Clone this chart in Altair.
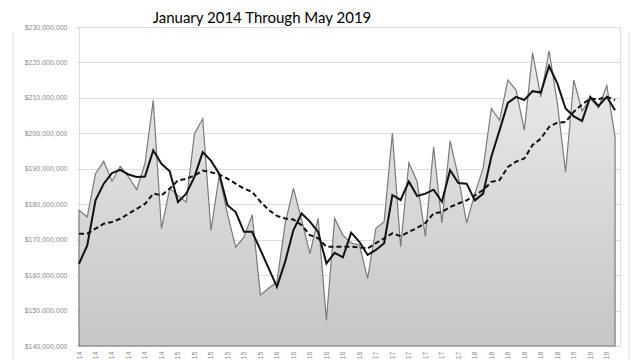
import altair as alt
import pandas as pd

# Monthly values in $ millions, Jan 2014 .. Jun 2019 (66 points)
monthly = [178.3, 176.4, 188.6, 192.1, 186.5, 190.7, 187.7, 184.1, 191.5, 209.3,
           173.1, 184.4, 182.5, 180.6, 199.8, 204.1, 172.6, 188.1, 177.3, 167.9,
           170.7, 177.0, 154.4, 156.3, 158.1, 174.6, 184.5, 175.5, 166.1, 176.0,
           147.3, 176.0, 171.3, 169.0, 168.5, 159.1, 173.2, 175.1, 200.0, 168.0,
           191.7, 186.4, 171.0, 196.2, 174.7, 197.9, 187.7, 174.7, 183.0, 190.1,
           207.0, 203.7, 215.0, 212.2, 200.9, 222.7, 210.3, 223.3, 208.5, 189.1,
           215.0, 206.3, 209.8, 207.2, 213.5, 199.0]

avg3 = [163.2, 168.4, 181.1, 185.8, 188.8, 189.7, 188.4, 187.7, 187.8, 195.2,
        191.4, 189.3, 180.6, 183.0, 187.7, 194.7, 192.3, 188.6, 179.7, 177.8,
        172.2, 172.2, 167.1, 161.9, 156.7, 163.8, 172.7, 177.4, 175.1, 172.2,
        163.3, 166.3, 165.0, 172.0, 169.4, 165.7, 167.1, 169.0, 182.6, 181.2,
        186.4, 182.3, 183.0, 184.1, 180.7, 189.6, 186.0, 185.8, 181.1, 183.0,
        193.4, 200.9, 208.6, 210.3, 209.4, 211.9, 211.5, 219.0, 214.1, 207.0,
        204.8, 203.5, 210.3, 207.7, 210.3, 206.5]

avg12 = [171.7, 171.7, 173.1, 174.5, 175.0, 175.9, 177.3, 178.7, 180.1, 183.0,
         182.5, 184.4, 186.7, 187.2, 188.1, 189.5, 189.0, 188.4, 187.2, 185.8,
         184.4, 183.5, 180.7, 178.4, 176.7, 176.0, 175.7, 174.1, 171.3, 170.4,
         168.0, 168.0, 168.0, 168.0, 167.8, 167.5, 169.0, 170.4, 171.8, 171.0,
         172.2, 173.3, 174.7, 177.4, 177.8, 179.2, 180.2, 181.1, 182.5, 184.0,
         186.3, 186.8, 190.5, 192.0, 192.9, 196.7, 198.5, 201.8, 203.0, 203.2,
         206.1, 208.2, 209.8, 209.6, 210.3, 209.4]

years = ["14", "15", "16", "17", "18", "19"]
month_labels = [y for y in years for _ in range(12)][:66]

y_ticks = [140, 150, 160, 170, 180, 190, 200, 210, 220, 230]
title_text = "January 2014 Through May 2019"

df = pd.DataFrame({
    "idx": list(range(len(monthly))),
    "label": month_labels,
    "monthly": [v * 1e6 for v in monthly],
    "avg3": [v * 1e6 for v in avg3],
    "avg12": [v * 1e6 for v in avg12],
})

label_js = "[" + ",".join(f"'{s}'" for s in month_labels) + "]"

x_axis = alt.Axis(
    values=list(range(0, 65, 2)),
    labelExpr=label_js + "[datum.value]",
    labelAngle=-90,
    labelFontSize=7,
    labelColor="#8c8c8c",
    labelFont="Liberation Sans",
    labelPadding=5,
    labelOverlap=False,
    ticks=False,
    domain=False,
    grid=False,
    title=None,
)
x_scale = alt.Scale(domain=[0, 65.6], nice=False, zero=False)

y_scale = alt.Scale(domain=[140e6, 230e6], nice=False, zero=False)
y_axis = alt.Axis(
    values=[v * 1e6 for v in y_ticks],
    format="$,.0f",
    labelFontSize=7,
    labelFont="Liberation Sans",
    labelColor="#8c8c8c",
    labelPadding=9,
    labelOverlap=False,
    labelFlush=False,
    tickSize=3,
    tickColor="#d9d9d9",
    gridColor="#dedede",
    gridWidth=1,
    domain=False,
    title=None,
)


def xe():
    return alt.X("idx:Q", scale=x_scale, axis=x_axis)


def ye(field):
    return alt.Y(f"{field}:Q", scale=y_scale, axis=y_axis)


area = alt.Chart(df).mark_area(
    stroke="#7a7a7a",
    strokeWidth=1.2,
    color=alt.Gradient(
        gradient="linear",
        stops=[alt.GradientStop(color="#ececec", offset=0),
               alt.GradientStop(color="#c6c6c6", offset=1)],
        x1=1, x2=1, y1=0, y2=1,
    ),
).encode(x=xe(), y=ye("monthly"), y2=alt.datum(140e6))

dashed = alt.Chart(df).mark_line(
    color="#111111", strokeWidth=2, strokeDash=[5, 3]
).encode(x=xe(), y=ye("avg12"))

solid = alt.Chart(df).mark_line(
    color="#111111", strokeWidth=2
).encode(x=xe(), y=ye("avg3"))

one = pd.DataFrame({"t": [title_text]})
title = alt.Chart(one).mark_text(
    font="Lato", fontSize=15, color="#000000", baseline="alphabetic", align="center"
).encode(x=alt.value(183), y=alt.value(-4), text="t:N")

frame_l = alt.Chart(one).mark_rule(color="#d9d9d9", strokeWidth=1).encode(
    x=alt.value(-66), y=alt.value(5), y2=alt.value(400))
frame_r = alt.Chart(one).mark_rule(color="#d9d9d9", strokeWidth=1).encode(
    x=alt.value(550), y=alt.value(5), y2=alt.value(400))

chart = alt.layer(frame_l, frame_r, area, dashed, solid, title).properties(
    width=541,
    height=319,
    autosize=alt.AutoSizeParams(type="none"),
    padding={"left": 71, "top": 19, "right": 12, "bottom": 14},
).configure_view(stroke=None).configure(background="white").configure_axisY(
    labelOverlap=False
)

chart.save("out.html", embed_options={"renderer": "svg", "actions": False})
